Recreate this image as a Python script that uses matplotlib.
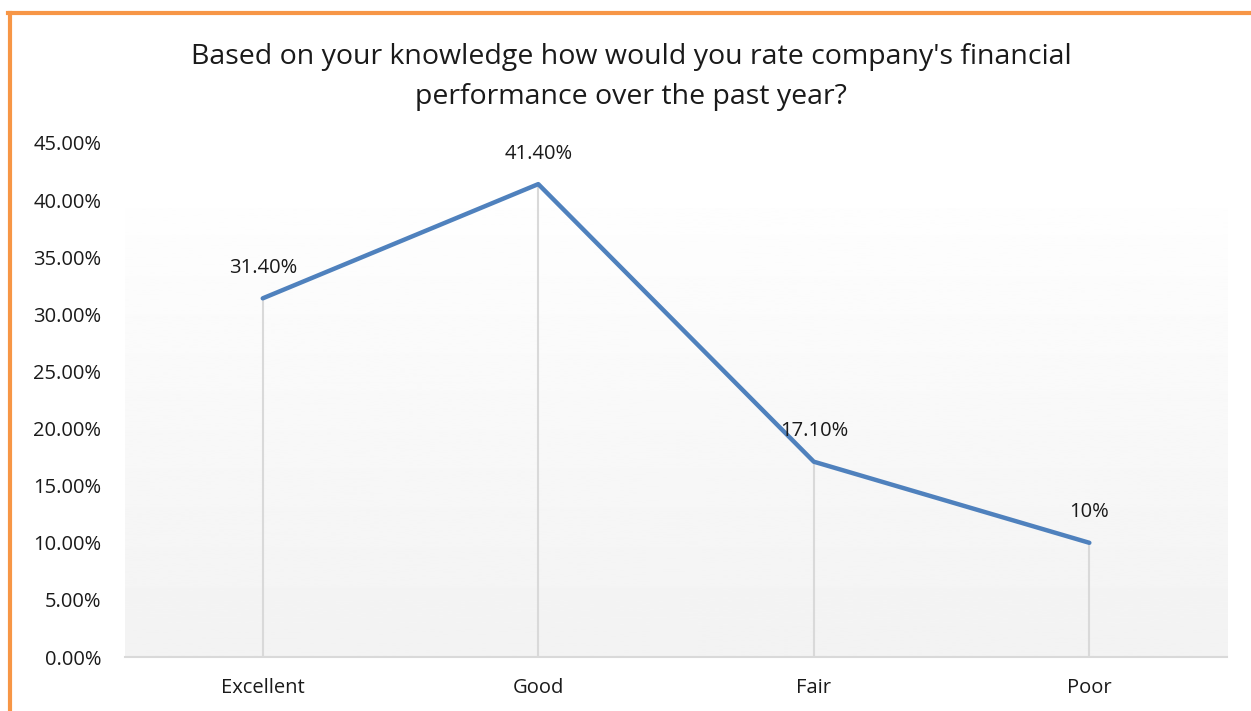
import matplotlib.pyplot as plt
import numpy as np
from matplotlib.lines import Line2D

plt.rcParams['font.family'] = ['Open Sans', 'DejaVu Sans']

# data
categories = ["Excellent", "Good", "Fair", "Poor"]
values = [0.314, 0.414, 0.171, 0.10]
labels = ["31.40%", "41.40%", "17.10%", "10%"]
title = "Based on your knowledge how would you rate company's financial\nperformance over the past year?"

fig = plt.figure(figsize=(12.51, 7.11), dpi=100)
ax = fig.add_axes([0.0999, 0.0759, 0.8810, 0.7230])

x = np.arange(len(categories))
ax.set_xlim(-0.5, 3.5)
ax.set_ylim(0, 0.45)

# gradient background of plot area
grad = np.linspace(0.95, 0.995, 256).reshape(-1, 1)
ax.imshow(grad, extent=[-0.5, 3.5, 0, 0.393], origin='lower', cmap='gray',
          vmin=0, vmax=1, aspect='auto', zorder=0)

# drop lines
ax.vlines(x, 0, values, color='#d9d9d9', linewidth=1.5, zorder=1)

ax.plot(x, values, color='#4f81bd', linewidth=3.2, solid_capstyle='round', zorder=3)

for xi, v, lab in zip(x, values, labels):
    ax.annotate(lab, (xi, v), xytext=(0, 22), textcoords='offset points',
                ha='center', va='center', fontsize=14.5, color='#1a1a1a', zorder=4)

ax.set_yticks(np.arange(0, 0.451, 0.05))
ax.set_yticklabels([f"{t*100:.2f}%" for t in np.arange(0, 0.451, 0.05)])
ax.set_xticks(x)
ax.set_xticklabels(categories)
ax.tick_params(axis='both', length=0, labelsize=14.5, colors='#1a1a1a')
ax.tick_params(axis='y', pad=17)
ax.tick_params(axis='x', pad=15)

for s in ['top', 'right', 'left']:
    ax.spines[s].set_visible(False)
ax.spines['bottom'].set_color('#d9d9d9')
ax.spines['bottom'].set_linewidth(1.5)

fig.text(0.5045, 0.8915, title, ha='center', va='center', fontsize=20.5,
         color='#1a1a1a', linespacing=1.55)

# orange frame on left and top
fig.add_artist(Line2D([0.008, 0.008], [0, 0.982], color='#f79646', linewidth=3,
                      transform=fig.transFigure))
fig.add_artist(Line2D([0.0065, 1.0], [0.982, 0.982], color='#f79646', linewidth=3,
                      transform=fig.transFigure))

fig.savefig("out.png", dpi=100)
